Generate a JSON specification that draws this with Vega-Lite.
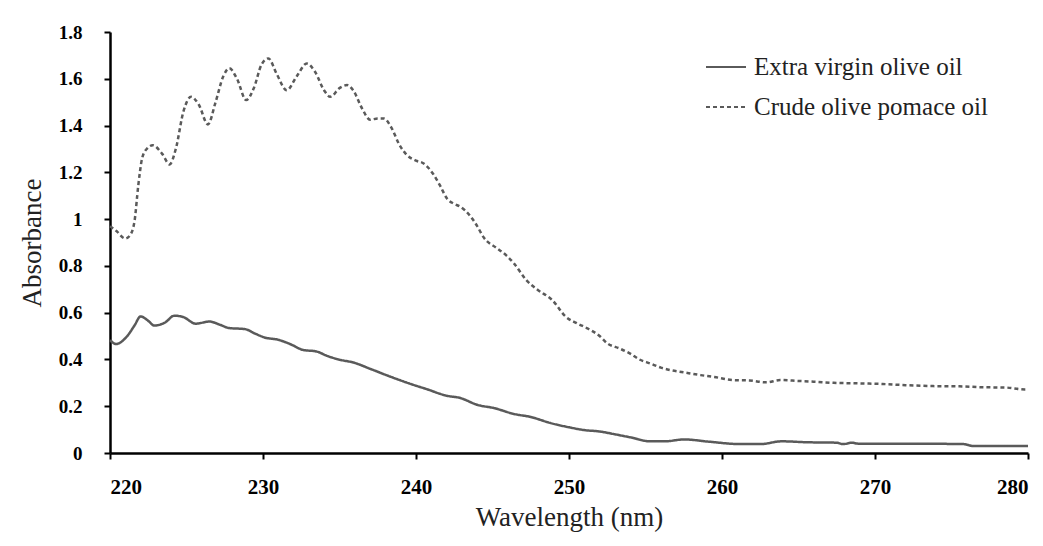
{
  "$schema": "https://vega.github.io/schema/vega-lite/v6.json",
  "width": 918,
  "height": 421,
  "autosize": {"type": "none"},
  "padding": {"left": 110, "top": 32, "right": 15, "bottom": 93},
  "background": "white",
  "config": {
    "font": "Liberation Serif",
    "view": {"stroke": null}
  },
  "data": {
    "values": [
      {"wl": 220.0, "a": 0.97, "s": "Crude olive pomace oil"},
      {"wl": 220.4, "a": 0.95, "s": "Crude olive pomace oil"},
      {"wl": 221.0, "a": 0.917, "s": "Crude olive pomace oil"},
      {"wl": 221.3, "a": 0.93, "s": "Crude olive pomace oil"},
      {"wl": 221.6, "a": 0.99, "s": "Crude olive pomace oil"},
      {"wl": 221.85, "a": 1.145, "s": "Crude olive pomace oil"},
      {"wl": 222.1, "a": 1.26, "s": "Crude olive pomace oil"},
      {"wl": 222.4, "a": 1.30, "s": "Crude olive pomace oil"},
      {"wl": 222.8, "a": 1.316, "s": "Crude olive pomace oil"},
      {"wl": 223.4, "a": 1.28, "s": "Crude olive pomace oil"},
      {"wl": 223.9, "a": 1.234, "s": "Crude olive pomace oil"},
      {"wl": 224.3, "a": 1.30, "s": "Crude olive pomace oil"},
      {"wl": 224.8, "a": 1.46, "s": "Crude olive pomace oil"},
      {"wl": 225.3, "a": 1.523, "s": "Crude olive pomace oil"},
      {"wl": 225.8, "a": 1.49, "s": "Crude olive pomace oil"},
      {"wl": 226.4, "a": 1.405, "s": "Crude olive pomace oil"},
      {"wl": 226.9, "a": 1.50, "s": "Crude olive pomace oil"},
      {"wl": 227.4, "a": 1.61, "s": "Crude olive pomace oil"},
      {"wl": 227.8, "a": 1.645, "s": "Crude olive pomace oil"},
      {"wl": 228.3, "a": 1.60, "s": "Crude olive pomace oil"},
      {"wl": 228.9, "a": 1.509, "s": "Crude olive pomace oil"},
      {"wl": 229.4, "a": 1.56, "s": "Crude olive pomace oil"},
      {"wl": 229.9, "a": 1.66, "s": "Crude olive pomace oil"},
      {"wl": 230.35, "a": 1.687, "s": "Crude olive pomace oil"},
      {"wl": 230.9, "a": 1.62, "s": "Crude olive pomace oil"},
      {"wl": 231.55, "a": 1.551, "s": "Crude olive pomace oil"},
      {"wl": 232.2, "a": 1.61, "s": "Crude olive pomace oil"},
      {"wl": 232.86, "a": 1.665, "s": "Crude olive pomace oil"},
      {"wl": 233.4, "a": 1.63, "s": "Crude olive pomace oil"},
      {"wl": 234.0, "a": 1.55, "s": "Crude olive pomace oil"},
      {"wl": 234.4, "a": 1.523, "s": "Crude olive pomace oil"},
      {"wl": 235.0, "a": 1.56, "s": "Crude olive pomace oil"},
      {"wl": 235.5, "a": 1.573, "s": "Crude olive pomace oil"},
      {"wl": 235.9, "a": 1.55, "s": "Crude olive pomace oil"},
      {"wl": 236.5, "a": 1.47, "s": "Crude olive pomace oil"},
      {"wl": 237.0, "a": 1.425, "s": "Crude olive pomace oil"},
      {"wl": 237.5, "a": 1.43, "s": "Crude olive pomace oil"},
      {"wl": 237.9, "a": 1.43, "s": "Crude olive pomace oil"},
      {"wl": 238.4, "a": 1.39, "s": "Crude olive pomace oil"},
      {"wl": 238.9, "a": 1.32, "s": "Crude olive pomace oil"},
      {"wl": 239.4, "a": 1.274, "s": "Crude olive pomace oil"},
      {"wl": 240.0, "a": 1.25, "s": "Crude olive pomace oil"},
      {"wl": 240.5, "a": 1.238, "s": "Crude olive pomace oil"},
      {"wl": 241.1, "a": 1.195, "s": "Crude olive pomace oil"},
      {"wl": 241.6, "a": 1.14, "s": "Crude olive pomace oil"},
      {"wl": 242.0, "a": 1.09, "s": "Crude olive pomace oil"},
      {"wl": 242.5, "a": 1.065, "s": "Crude olive pomace oil"},
      {"wl": 242.9, "a": 1.053, "s": "Crude olive pomace oil"},
      {"wl": 243.5, "a": 1.017, "s": "Crude olive pomace oil"},
      {"wl": 244.0, "a": 0.97, "s": "Crude olive pomace oil"},
      {"wl": 244.4, "a": 0.924, "s": "Crude olive pomace oil"},
      {"wl": 245.3, "a": 0.875, "s": "Crude olive pomace oil"},
      {"wl": 245.9, "a": 0.845, "s": "Crude olive pomace oil"},
      {"wl": 246.4, "a": 0.811, "s": "Crude olive pomace oil"},
      {"wl": 247.2, "a": 0.74, "s": "Crude olive pomace oil"},
      {"wl": 247.9, "a": 0.70, "s": "Crude olive pomace oil"},
      {"wl": 248.9, "a": 0.654, "s": "Crude olive pomace oil"},
      {"wl": 249.8, "a": 0.582, "s": "Crude olive pomace oil"},
      {"wl": 250.5, "a": 0.555, "s": "Crude olive pomace oil"},
      {"wl": 251.2, "a": 0.533, "s": "Crude olive pomace oil"},
      {"wl": 252.0, "a": 0.50, "s": "Crude olive pomace oil"},
      {"wl": 252.5, "a": 0.469, "s": "Crude olive pomace oil"},
      {"wl": 253.3, "a": 0.447, "s": "Crude olive pomace oil"},
      {"wl": 254.0, "a": 0.425, "s": "Crude olive pomace oil"},
      {"wl": 254.6, "a": 0.40, "s": "Crude olive pomace oil"},
      {"wl": 255.3, "a": 0.383, "s": "Crude olive pomace oil"},
      {"wl": 256.0, "a": 0.365, "s": "Crude olive pomace oil"},
      {"wl": 256.6, "a": 0.355, "s": "Crude olive pomace oil"},
      {"wl": 257.5, "a": 0.345, "s": "Crude olive pomace oil"},
      {"wl": 258.6, "a": 0.333, "s": "Crude olive pomace oil"},
      {"wl": 259.5, "a": 0.325, "s": "Crude olive pomace oil"},
      {"wl": 260.7, "a": 0.312, "s": "Crude olive pomace oil"},
      {"wl": 261.8, "a": 0.31, "s": "Crude olive pomace oil"},
      {"wl": 262.9, "a": 0.302, "s": "Crude olive pomace oil"},
      {"wl": 263.8, "a": 0.312, "s": "Crude olive pomace oil"},
      {"wl": 265.0, "a": 0.308, "s": "Crude olive pomace oil"},
      {"wl": 266.0, "a": 0.305, "s": "Crude olive pomace oil"},
      {"wl": 267.3, "a": 0.300, "s": "Crude olive pomace oil"},
      {"wl": 268.8, "a": 0.298, "s": "Crude olive pomace oil"},
      {"wl": 270.5, "a": 0.295, "s": "Crude olive pomace oil"},
      {"wl": 272.0, "a": 0.29, "s": "Crude olive pomace oil"},
      {"wl": 273.8, "a": 0.286, "s": "Crude olive pomace oil"},
      {"wl": 275.5, "a": 0.285, "s": "Crude olive pomace oil"},
      {"wl": 277.1, "a": 0.281, "s": "Crude olive pomace oil"},
      {"wl": 278.5, "a": 0.28, "s": "Crude olive pomace oil"},
      {"wl": 279.8, "a": 0.272, "s": "Crude olive pomace oil"},
      {"wl": 280.0, "a": 0.272, "s": "Crude olive pomace oil"},
      {"wl": 220.0, "a": 0.483, "s": "Extra virgin olive oil"},
      {"wl": 220.4, "a": 0.466, "s": "Extra virgin olive oil"},
      {"wl": 221.1, "a": 0.498, "s": "Extra virgin olive oil"},
      {"wl": 221.6, "a": 0.545, "s": "Extra virgin olive oil"},
      {"wl": 222.0, "a": 0.584, "s": "Extra virgin olive oil"},
      {"wl": 222.5, "a": 0.565, "s": "Extra virgin olive oil"},
      {"wl": 222.9, "a": 0.545, "s": "Extra virgin olive oil"},
      {"wl": 223.6, "a": 0.558, "s": "Extra virgin olive oil"},
      {"wl": 224.2, "a": 0.587, "s": "Extra virgin olive oil"},
      {"wl": 224.8, "a": 0.581, "s": "Extra virgin olive oil"},
      {"wl": 225.6, "a": 0.553, "s": "Extra virgin olive oil"},
      {"wl": 226.5, "a": 0.562, "s": "Extra virgin olive oil"},
      {"wl": 227.2, "a": 0.548, "s": "Extra virgin olive oil"},
      {"wl": 227.8, "a": 0.534, "s": "Extra virgin olive oil"},
      {"wl": 228.8, "a": 0.530, "s": "Extra virgin olive oil"},
      {"wl": 229.5, "a": 0.51, "s": "Extra virgin olive oil"},
      {"wl": 230.1, "a": 0.494, "s": "Extra virgin olive oil"},
      {"wl": 231.0, "a": 0.484, "s": "Extra virgin olive oil"},
      {"wl": 231.8, "a": 0.465, "s": "Extra virgin olive oil"},
      {"wl": 232.6, "a": 0.441, "s": "Extra virgin olive oil"},
      {"wl": 233.5, "a": 0.434, "s": "Extra virgin olive oil"},
      {"wl": 234.2, "a": 0.415, "s": "Extra virgin olive oil"},
      {"wl": 235.0, "a": 0.399, "s": "Extra virgin olive oil"},
      {"wl": 235.9, "a": 0.387, "s": "Extra virgin olive oil"},
      {"wl": 237.0, "a": 0.36, "s": "Extra virgin olive oil"},
      {"wl": 238.3, "a": 0.327, "s": "Extra virgin olive oil"},
      {"wl": 239.8, "a": 0.292, "s": "Extra virgin olive oil"},
      {"wl": 240.7, "a": 0.273, "s": "Extra virgin olive oil"},
      {"wl": 242.0, "a": 0.245, "s": "Extra virgin olive oil"},
      {"wl": 242.9, "a": 0.235, "s": "Extra virgin olive oil"},
      {"wl": 244.0, "a": 0.206, "s": "Extra virgin olive oil"},
      {"wl": 245.1, "a": 0.192, "s": "Extra virgin olive oil"},
      {"wl": 246.4, "a": 0.167, "s": "Extra virgin olive oil"},
      {"wl": 247.5, "a": 0.154, "s": "Extra virgin olive oil"},
      {"wl": 248.8, "a": 0.128, "s": "Extra virgin olive oil"},
      {"wl": 250.0, "a": 0.11, "s": "Extra virgin olive oil"},
      {"wl": 251.0, "a": 0.098, "s": "Extra virgin olive oil"},
      {"wl": 252.0, "a": 0.092, "s": "Extra virgin olive oil"},
      {"wl": 253.0, "a": 0.08, "s": "Extra virgin olive oil"},
      {"wl": 254.0, "a": 0.067, "s": "Extra virgin olive oil"},
      {"wl": 255.3, "a": 0.05, "s": "Extra virgin olive oil"},
      {"wl": 256.3, "a": 0.05, "s": "Extra virgin olive oil"},
      {"wl": 257.5, "a": 0.058, "s": "Extra virgin olive oil"},
      {"wl": 259.2, "a": 0.048, "s": "Extra virgin olive oil"},
      {"wl": 261.2, "a": 0.038, "s": "Extra virgin olive oil"},
      {"wl": 262.5, "a": 0.038, "s": "Extra virgin olive oil"},
      {"wl": 263.9, "a": 0.05, "s": "Extra virgin olive oil"},
      {"wl": 265.5, "a": 0.046, "s": "Extra virgin olive oil"},
      {"wl": 267.5, "a": 0.044, "s": "Extra virgin olive oil"},
      {"wl": 267.9, "a": 0.038, "s": "Extra virgin olive oil"},
      {"wl": 268.5, "a": 0.044, "s": "Extra virgin olive oil"},
      {"wl": 268.9, "a": 0.04, "s": "Extra virgin olive oil"},
      {"wl": 272.0, "a": 0.04, "s": "Extra virgin olive oil"},
      {"wl": 275.8, "a": 0.038, "s": "Extra virgin olive oil"},
      {"wl": 276.4, "a": 0.03, "s": "Extra virgin olive oil"},
      {"wl": 280.0, "a": 0.03, "s": "Extra virgin olive oil"}
    ]
  },
  "mark": {"type": "line", "interpolate": "monotone", "strokeWidth": 2.5, "color": "#5a5a5a"},
  "encoding": {
    "x": {
      "field": "wl", "type": "quantitative",
      "scale": {"domain": [220, 280], "nice": false, "zero": false},
      "axis": {
        "title": "Wavelength (nm)",
        "values": [220, 230, 240, 250, 260, 270, 280],
        "grid": false,
        "domainColor": "black", "domainWidth": 2.5,
        "tickColor": "black", "tickWidth": 2, "tickSize": 6,
        "labelFont": "Liberation Serif", "labelFontWeight": "bold", "labelFontSize": 21, "labelColor": "black",
        "labelPadding": 17,
        "titleFont": "Liberation Serif", "titleFontWeight": "normal", "titleFontSize": 27, "titleColor": "#222",
        "titlePadding": 7
      }
    },
    "y": {
      "field": "a", "type": "quantitative",
      "scale": {"domain": [0, 1.8], "nice": false},
      "axis": {
        "title": "Absorbance",
        "values": [0, 0.2, 0.4, 0.6, 0.8, 1, 1.2, 1.4, 1.6, 1.8],
        "format": "~g",
        "grid": false,
        "domainColor": "black", "domainWidth": 2.5,
        "tickColor": "black", "tickWidth": 2, "tickSize": 6,
        "labelFont": "Liberation Serif", "labelFontWeight": "bold", "labelFontSize": 19, "labelColor": "black",
        "labelPadding": 22,
        "titleFont": "Liberation Serif", "titleFontWeight": "normal", "titleFontSize": 27, "titleColor": "#222",
        "titlePadding": 12
      }
    },
    "strokeDash": {
      "field": "s", "type": "nominal",
      "scale": {"domain": ["Extra virgin olive oil", "Crude olive pomace oil"], "range": [[1, 0], [4, 3]]},
      "legend": {
        "title": null,
        "orient": "none",
        "legendX": 595,
        "legendY": 14,
        "symbolType": "stroke",
        "symbolSize": 1600,
        "symbolStrokeWidth": 2,
        "symbolStrokeColor": "#5a5a5a",
        "labelFont": "Liberation Serif",
        "labelFontSize": 25,
        "labelColor": "#222",
        "labelLimit": 0,
        "labelOffset": 7,
        "rowPadding": 6
      }
    }
  }
}
